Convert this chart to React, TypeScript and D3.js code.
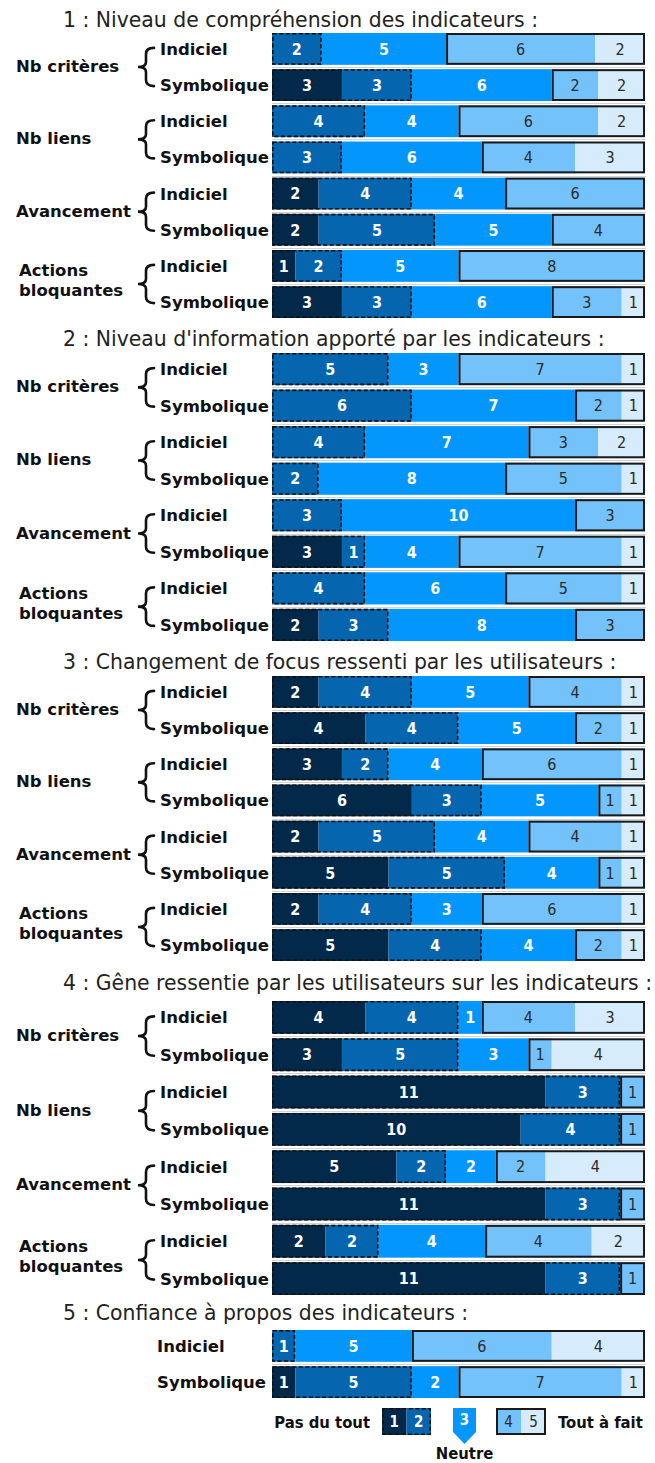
import React from "react";
import * as d3 from "d3";

// ---------- DATA ----------
const levels = ["1", "2", "3", "4", "5"];
const sectionTitles = [
  "1 : Niveau de compréhension des indicateurs :",
  "2 : Niveau d'information apporté par les indicateurs :",
  "3 : Changement de focus ressenti par les utilisateurs :",
  "4 : Gêne ressentie par les utilisateurs sur les indicateurs :",
  "5 : Confiance à propos des indicateurs :",
];
const criteria = ["Nb critères", "Nb liens", "Avancement", "Actions bloquantes"];
const variants = ["Indiciel", "Symbolique"];

// counts per answer level 1..5, rows: criterion x variant (Indiciel, Symbolique)
const q1Values = [
  [0, 2, 5, 6, 2], [3, 3, 6, 2, 2],
  [0, 4, 4, 6, 2], [0, 3, 6, 4, 3],
  [2, 4, 4, 6, 0], [2, 5, 5, 4, 0],
  [1, 2, 5, 8, 0], [3, 3, 6, 3, 1],
];
const q2Values = [
  [0, 5, 3, 7, 1], [0, 6, 7, 2, 1],
  [0, 4, 7, 3, 2], [0, 2, 8, 5, 1],
  [0, 3, 10, 3, 0], [3, 1, 4, 7, 1],
  [0, 4, 6, 5, 1], [2, 3, 8, 3, 0],
];
const q3Values = [
  [2, 4, 5, 4, 1], [4, 4, 5, 2, 1],
  [3, 2, 4, 6, 1], [6, 3, 5, 1, 1],
  [2, 5, 4, 4, 1], [5, 5, 4, 1, 1],
  [2, 4, 3, 6, 1], [5, 4, 4, 2, 1],
];
const q4Values = [
  [4, 4, 1, 4, 3], [3, 5, 3, 1, 4],
  [11, 3, 0, 1, 0], [10, 4, 0, 1, 0],
  [5, 2, 2, 2, 4], [11, 3, 0, 1, 0],
  [2, 2, 4, 4, 2], [11, 3, 0, 1, 0],
];
const q5Values = [
  [0, 1, 5, 6, 4], [1, 5, 2, 7, 1],
];
const sectionValues = [q1Values, q2Values, q3Values, q4Values, q5Values];

const legendLow = "Pas du tout";
const legendMid = "Neutre";
const legendHigh = "Tout à fait";

// ---------- STYLE / LAYOUT ----------
const W = 655;
const H = 1463;
const colors = ["#03294a", "#0565ae", "#0396fd", "#74c2fb", "#d6ecfc"];
const textColors = ["#ffffff", "#ffffff", "#ffffff", "#2a2a2a", "#2a2a2a"];
const barX0 = 272;
const barX1 = 645;
const titleX = 63;
const titleBaselines = [27, 346, 669, 990, 1320];
const rowRanges: [number, number][] = [
  [33, 318],
  [353, 641],
  [676, 961],
  [1001, 1295],
  [1330, 1398],
];
const titleFont = "'DejaVu Sans', sans-serif";
const labelFont = "'DejaVu Sans', sans-serif";
const numFont = "'DejaVu Sans Condensed', 'DejaVu Sans', sans-serif";

function bracePath(T: number, R: number, M: number, h: number) {
  const xm = (T + R) / 2;
  return [
    `M${R},${M - h}`,
    `Q${xm},${M - h} ${xm},${M - h + 6}`,
    `L${xm},${M - 5}`,
    `Q${xm},${M} ${T},${M}`,
    `Q${xm},${M} ${xm},${M + 5}`,
    `L${xm},${M + h - 6}`,
    `Q${xm},${M + h} ${R},${M + h}`,
  ].join(" ");
}

function Row({ vals, y, h }: { vals: number[]; y: number; h: number }) {
  const total = d3.sum(vals);
  const x = d3.scaleLinear().domain([0, total]).range([barX0, barX1]);
  const starts = [0, ...Array.from(d3.cumsum(vals))];
  const cy = y + h / 2;
  const low = vals[0] + vals[1];
  const highStart = vals[0] + vals[1] + vals[2];
  return (
    <g>
      {vals.map((v, k) =>
        v > 0 ? (
          <rect
            key={"r" + k}
            x={x(starts[k])}
            y={y}
            width={x(starts[k] + v) - x(starts[k])}
            height={h}
            fill={colors[k]}
          />
        ) : null
      )}
      {low > 0 && (
        <rect
          x={x(0) + 0.8}
          y={y + 0.8}
          width={x(low) - x(0) - 1.6}
          height={h - 1.6}
          fill="none"
          stroke="#111"
          strokeWidth={1.6}
          strokeDasharray="4 2.5"
        />
      )}
      {total - highStart > 0 && (
        <rect
          x={x(highStart) + 1}
          y={y + 1}
          width={x(total) - x(highStart) - 2}
          height={h - 2}
          fill="none"
          stroke="#1a1a1a"
          strokeWidth={2}
        />
      )}
      {vals.map((v, k) =>
        v > 0 ? (
          <text
            key={"t" + k}
            x={(x(starts[k]) + x(starts[k] + v)) / 2}
            y={cy}
            dy="0.36em"
            textAnchor="middle"
            fontFamily={numFont}
            fontStretch="condensed"
            fontWeight={k < 3 ? "bold" : "normal"}
            fontSize={16}
            fill={textColors[k]}
          >
            {v}
          </text>
        ) : null
      )}
    </g>
  );
}

function Section({ si }: { si: number }) {
  const vals = sectionValues[si];
  const hasGroups = vals.length > 2;
  const rowIds = vals.map((_, i) => String(i));
  const y = d3.scaleBand().domain(rowIds).range(rowRanges[si]).paddingInner(0.12);
  const bw = y.bandwidth();
  const elems: React.ReactNode[] = [];

  // separators
  for (let i = 0; i < vals.length - 1; i++) {
    const a = (y(String(i)) as number) + bw;
    const b = y(String(i + 1)) as number;
    const my = Math.round((a + b) / 2) + 0.5;
    elems.push(
      <line key={"sep" + i} x1={barX0} x2={barX1 + 1} y1={my} y2={my} stroke="#d2d2d2" strokeWidth={1} />
    );
  }

  vals.forEach((v, i) => {
    const top = y(String(i)) as number;
    elems.push(<Row key={"row" + i} vals={v} y={top} h={bw} />);
    const variant = variants[i % 2];
    elems.push(
      <text
        key={"vl" + i}
        x={hasGroups ? 160 : 157}
        y={top + bw / 2}
        dy="0.36em"
        fontFamily={labelFont}
        fontWeight="bold"
        fontSize={16.5}
        fill="#111"
      >
        {variant}
      </text>
    );
  });

  if (hasGroups) {
    criteria.forEach((c, gi) => {
      const c1 = (y(String(gi * 2)) as number) + bw / 2;
      const c2 = (y(String(gi * 2 + 1)) as number) + bw / 2;
      const mid = (c1 + c2) / 2;
      const half = (c2 - c1) / 2 + 1;
      elems.push(
        <path
          key={"br" + gi}
          d={bracePath(138, 154, mid, half)}
          fill="none"
          stroke="#111"
          strokeWidth={2.6}
          strokeLinecap="round"
        />
      );
      const lines = c.length > 14 ? c.split(" ") : [c];
      if (lines.length === 1) {
        elems.push(
          <text key={"gl" + gi} x={16} y={mid + 5} fontFamily={labelFont} fontWeight="bold" fontSize={16.5} fill="#111">
            {c}
          </text>
        );
      } else {
        lines.forEach((ln, li) => {
          elems.push(
            <text
              key={"gl" + gi + "_" + li}
              x={19}
              y={mid - 8 + li * 20}
              fontFamily={labelFont}
              fontWeight="bold"
              fontSize={16.5}
              fill="#111"
            >
              {ln}
            </text>
          );
        });
      }
    });
  }

  return (
    <g>
      <text x={titleX} y={titleBaselines[si]} fontFamily={titleFont} fontSize={20.4} fill="#222">
        {sectionTitles[si]}
      </text>
      {elems}
    </g>
  );
}

function Legend() {
  const top = 1408;
  const h = 27;
  const cellW = 24.5;
  const lowX = 382;
  const highX = 496;
  const midX = 453;
  const midW = 23;
  const legendNum = (k: number, cx: number, cy: number) => (
    <text
      key={"ln" + k}
      x={cx}
      y={cy}
      dy="0.36em"
      textAnchor="middle"
      fontFamily={numFont}
      fontStretch="condensed"
      fontWeight={k < 3 ? "bold" : "normal"}
      fontSize={15}
      fill={textColors[k]}
    >
      {levels[k]}
    </text>
  );
  const pent = `M${midX},${top} L${midX + midW},${top} L${midX + midW},${top + 24} L${midX + midW / 2},${top + 36} L${midX},${top + 24} Z`;
  return (
    <g>
      <text x={370} y={1428} textAnchor="end" fontFamily={numFont} fontStretch="condensed" fontWeight="bold" fontSize={16.5} fill="#111">
        {legendLow}
      </text>
      {[0, 1].map((k) => (
        <rect key={"lc" + k} x={lowX + k * cellW} y={top} width={cellW} height={h} fill={colors[k]} />
      ))}
      <rect x={lowX + 0.8} y={top + 0.8} width={cellW * 2 - 1.6} height={h - 1.6} fill="none" stroke="#111" strokeWidth={1.6} strokeDasharray="4 2.5" />
      {[0, 1].map((k) => legendNum(k, lowX + k * cellW + cellW / 2, top + h / 2))}
      <path d={pent} fill={colors[2]} />
      {legendNum(2, midX + midW / 2, top + 12)}
      <text x={midX + midW / 2} y={1459} textAnchor="middle" fontFamily={numFont} fontStretch="condensed" fontWeight="bold" fontSize={16.5} fill="#111">
        {legendMid}
      </text>
      {[3, 4].map((k) => (
        <rect key={"hc" + k} x={highX + (k - 3) * (cellW + 0.5)} y={top} width={cellW + 0.5} height={h} fill={colors[k]} />
      ))}
      <rect x={highX + 1} y={top + 1} width={cellW * 2 + 1 - 2} height={h - 2} fill="none" stroke="#1a1a1a" strokeWidth={2} />
      {[3, 4].map((k) => legendNum(k, highX + (k - 3) * (cellW + 0.5) + (cellW + 0.5) / 2, top + h / 2))}
      <text x={558} y={1428} fontFamily={numFont} fontStretch="condensed" fontWeight="bold" fontSize={16.5} fill="#111">
        {legendHigh}
      </text>
    </g>
  );
}

export default function App() {
  return (
    <svg
      width={W}
      height={H}
      viewBox={`0 0 ${W} ${H}`}
      style={{ position: "absolute", left: 0, top: 0, background: "#fff" }}
    >
      <rect x={0} y={0} width={W} height={H} fill="#fff" />
      {sectionTitles.map((_, si) => (
        <Section key={si} si={si} />
      ))}
      <Legend />
    </svg>
  );
}
